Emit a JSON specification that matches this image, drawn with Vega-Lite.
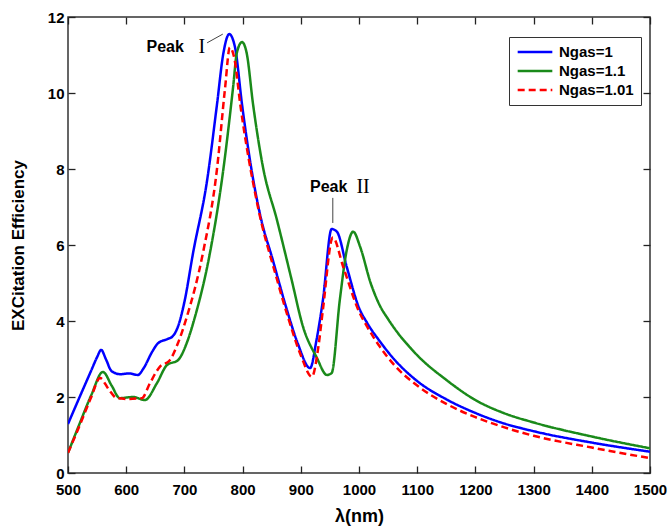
{
  "$schema": "https://vega.github.io/schema/vega-lite/v6.json",
  "width": 582,
  "height": 456,
  "autosize": {"type": "none"},
  "padding": {"left": 68, "top": 17, "right": 18, "bottom": 56},
  "background": "white",
  "config": {
    "font": "Liberation Sans",
    "view": {"stroke": "#333", "strokeWidth": 1.5},
    "axis": {"grid": false, "domain": false, "ticks": true, "tickColor": "#222", "tickWidth": 1.3, "labelFont": "Liberation Sans", "labelFontWeight": "bold", "labelFontSize": 15, "labelColor": "#000", "titleFont": "Liberation Sans", "titleFontWeight": "bold", "titleColor": "#000"}
  },
  "datasets": {
    "curves": [
      {"lambda": 500, "eff": 1.29, "series": "Ngas=1"},
      {"lambda": 520, "eff": 2.0, "series": "Ngas=1"},
      {"lambda": 540, "eff": 2.7, "series": "Ngas=1"},
      {"lambda": 550, "eff": 3.05, "series": "Ngas=1"},
      {"lambda": 557, "eff": 3.24, "series": "Ngas=1"},
      {"lambda": 565, "eff": 3.0, "series": "Ngas=1"},
      {"lambda": 575, "eff": 2.68, "series": "Ngas=1"},
      {"lambda": 590, "eff": 2.6, "series": "Ngas=1"},
      {"lambda": 605, "eff": 2.62, "series": "Ngas=1"},
      {"lambda": 620, "eff": 2.58, "series": "Ngas=1"},
      {"lambda": 630, "eff": 2.76, "series": "Ngas=1"},
      {"lambda": 645, "eff": 3.2, "series": "Ngas=1"},
      {"lambda": 655, "eff": 3.42, "series": "Ngas=1"},
      {"lambda": 670, "eff": 3.52, "series": "Ngas=1"},
      {"lambda": 680, "eff": 3.6, "series": "Ngas=1"},
      {"lambda": 690, "eff": 3.9, "series": "Ngas=1"},
      {"lambda": 700, "eff": 4.5, "series": "Ngas=1"},
      {"lambda": 715, "eff": 5.8, "series": "Ngas=1"},
      {"lambda": 739, "eff": 7.7, "series": "Ngas=1"},
      {"lambda": 756, "eff": 9.7, "series": "Ngas=1"},
      {"lambda": 767, "eff": 11.05, "series": "Ngas=1"},
      {"lambda": 777, "eff": 11.55, "series": "Ngas=1"},
      {"lambda": 787, "eff": 11.2, "series": "Ngas=1"},
      {"lambda": 799, "eff": 9.7, "series": "Ngas=1"},
      {"lambda": 813, "eff": 8.2, "series": "Ngas=1"},
      {"lambda": 830, "eff": 6.8, "series": "Ngas=1"},
      {"lambda": 852, "eff": 5.6, "series": "Ngas=1"},
      {"lambda": 876, "eff": 4.3, "series": "Ngas=1"},
      {"lambda": 895, "eff": 3.4, "series": "Ngas=1"},
      {"lambda": 916, "eff": 2.76, "series": "Ngas=1"},
      {"lambda": 927, "eff": 3.5, "series": "Ngas=1"},
      {"lambda": 938, "eff": 4.55, "series": "Ngas=1"},
      {"lambda": 953, "eff": 6.42, "series": "Ngas=1"},
      {"lambda": 962, "eff": 6.35, "series": "Ngas=1"},
      {"lambda": 979, "eff": 5.42, "series": "Ngas=1"},
      {"lambda": 1000, "eff": 4.35, "series": "Ngas=1"},
      {"lambda": 1014, "eff": 3.95, "series": "Ngas=1"},
      {"lambda": 1036, "eff": 3.46, "series": "Ngas=1"},
      {"lambda": 1060, "eff": 3.0, "series": "Ngas=1"},
      {"lambda": 1100, "eff": 2.42, "series": "Ngas=1"},
      {"lambda": 1150, "eff": 1.94, "series": "Ngas=1"},
      {"lambda": 1200, "eff": 1.58, "series": "Ngas=1"},
      {"lambda": 1250, "eff": 1.3, "series": "Ngas=1"},
      {"lambda": 1300, "eff": 1.1, "series": "Ngas=1"},
      {"lambda": 1400, "eff": 0.8, "series": "Ngas=1"},
      {"lambda": 1500, "eff": 0.56, "series": "Ngas=1"},

      {"lambda": 500, "eff": 0.53, "series": "Ngas=1.1"},
      {"lambda": 520, "eff": 1.3, "series": "Ngas=1.1"},
      {"lambda": 540, "eff": 2.05, "series": "Ngas=1.1"},
      {"lambda": 560, "eff": 2.66, "series": "Ngas=1.1"},
      {"lambda": 575, "eff": 2.3, "series": "Ngas=1.1"},
      {"lambda": 589, "eff": 1.97, "series": "Ngas=1.1"},
      {"lambda": 612, "eff": 2.0, "series": "Ngas=1.1"},
      {"lambda": 632, "eff": 1.92, "series": "Ngas=1.1"},
      {"lambda": 653, "eff": 2.37, "series": "Ngas=1.1"},
      {"lambda": 670, "eff": 2.84, "series": "Ngas=1.1"},
      {"lambda": 689, "eff": 2.97, "series": "Ngas=1.1"},
      {"lambda": 704, "eff": 3.42, "series": "Ngas=1.1"},
      {"lambda": 718, "eff": 4.1, "series": "Ngas=1.1"},
      {"lambda": 744, "eff": 5.8, "series": "Ngas=1.1"},
      {"lambda": 767, "eff": 8.0, "series": "Ngas=1.1"},
      {"lambda": 784, "eff": 10.2, "series": "Ngas=1.1"},
      {"lambda": 790, "eff": 11.05, "series": "Ngas=1.1"},
      {"lambda": 799, "eff": 11.34, "series": "Ngas=1.1"},
      {"lambda": 807, "eff": 11.05, "series": "Ngas=1.1"},
      {"lambda": 818, "eff": 9.7, "series": "Ngas=1.1"},
      {"lambda": 835, "eff": 8.05, "series": "Ngas=1.1"},
      {"lambda": 859, "eff": 6.66, "series": "Ngas=1.1"},
      {"lambda": 884, "eff": 5.1, "series": "Ngas=1.1"},
      {"lambda": 904, "eff": 3.84, "series": "Ngas=1.1"},
      {"lambda": 927, "eff": 3.05, "series": "Ngas=1.1"},
      {"lambda": 945, "eff": 2.58, "series": "Ngas=1.1"},
      {"lambda": 953, "eff": 2.63, "series": "Ngas=1.1"},
      {"lambda": 967, "eff": 4.55, "series": "Ngas=1.1"},
      {"lambda": 979, "eff": 5.87, "series": "Ngas=1.1"},
      {"lambda": 990, "eff": 6.35, "series": "Ngas=1.1"},
      {"lambda": 1002, "eff": 5.95, "series": "Ngas=1.1"},
      {"lambda": 1020, "eff": 5.0, "series": "Ngas=1.1"},
      {"lambda": 1036, "eff": 4.4, "series": "Ngas=1.1"},
      {"lambda": 1050, "eff": 4.05, "series": "Ngas=1.1"},
      {"lambda": 1070, "eff": 3.62, "series": "Ngas=1.1"},
      {"lambda": 1085, "eff": 3.35, "series": "Ngas=1.1"},
      {"lambda": 1100, "eff": 3.1, "series": "Ngas=1.1"},
      {"lambda": 1150, "eff": 2.45, "series": "Ngas=1.1"},
      {"lambda": 1200, "eff": 1.92, "series": "Ngas=1.1"},
      {"lambda": 1250, "eff": 1.57, "series": "Ngas=1.1"},
      {"lambda": 1300, "eff": 1.33, "series": "Ngas=1.1"},
      {"lambda": 1400, "eff": 0.96, "series": "Ngas=1.1"},
      {"lambda": 1500, "eff": 0.65, "series": "Ngas=1.1"},

      {"lambda": 500, "eff": 0.53, "series": "Ngas=1.01"},
      {"lambda": 520, "eff": 1.25, "series": "Ngas=1.01"},
      {"lambda": 540, "eff": 2.0, "series": "Ngas=1.01"},
      {"lambda": 555, "eff": 2.5, "series": "Ngas=1.01"},
      {"lambda": 570, "eff": 2.2, "series": "Ngas=1.01"},
      {"lambda": 584, "eff": 1.97, "series": "Ngas=1.01"},
      {"lambda": 601, "eff": 1.95, "series": "Ngas=1.01"},
      {"lambda": 627, "eff": 1.97, "series": "Ngas=1.01"},
      {"lambda": 641, "eff": 2.37, "series": "Ngas=1.01"},
      {"lambda": 658, "eff": 2.8, "series": "Ngas=1.01"},
      {"lambda": 675, "eff": 2.97, "series": "Ngas=1.01"},
      {"lambda": 689, "eff": 3.42, "series": "Ngas=1.01"},
      {"lambda": 704, "eff": 4.1, "series": "Ngas=1.01"},
      {"lambda": 732, "eff": 5.8, "series": "Ngas=1.01"},
      {"lambda": 756, "eff": 8.0, "series": "Ngas=1.01"},
      {"lambda": 770, "eff": 10.15, "series": "Ngas=1.01"},
      {"lambda": 778, "eff": 11.2, "series": "Ngas=1.01"},
      {"lambda": 786, "eff": 10.9, "series": "Ngas=1.01"},
      {"lambda": 796, "eff": 9.7, "series": "Ngas=1.01"},
      {"lambda": 825, "eff": 7.1, "series": "Ngas=1.01"},
      {"lambda": 859, "eff": 5.1, "series": "Ngas=1.01"},
      {"lambda": 880, "eff": 4.0, "series": "Ngas=1.01"},
      {"lambda": 900, "eff": 3.1, "series": "Ngas=1.01"},
      {"lambda": 919, "eff": 2.53, "series": "Ngas=1.01"},
      {"lambda": 930, "eff": 3.3, "series": "Ngas=1.01"},
      {"lambda": 938, "eff": 4.3, "series": "Ngas=1.01"},
      {"lambda": 955, "eff": 6.2, "series": "Ngas=1.01"},
      {"lambda": 973, "eff": 5.42, "series": "Ngas=1.01"},
      {"lambda": 1000, "eff": 4.25, "series": "Ngas=1.01"},
      {"lambda": 1014, "eff": 3.85, "series": "Ngas=1.01"},
      {"lambda": 1036, "eff": 3.32, "series": "Ngas=1.01"},
      {"lambda": 1060, "eff": 2.85, "series": "Ngas=1.01"},
      {"lambda": 1100, "eff": 2.3, "series": "Ngas=1.01"},
      {"lambda": 1150, "eff": 1.82, "series": "Ngas=1.01"},
      {"lambda": 1200, "eff": 1.47, "series": "Ngas=1.01"},
      {"lambda": 1250, "eff": 1.2, "series": "Ngas=1.01"},
      {"lambda": 1300, "eff": 0.98, "series": "Ngas=1.01"},
      {"lambda": 1400, "eff": 0.67, "series": "Ngas=1.01"},
      {"lambda": 1500, "eff": 0.39, "series": "Ngas=1.01"}
    ],
    "words": [
      {"lambda": 667, "eff": 11.2, "label": "Peak", "serif": false},
      {"lambda": 730, "eff": 11.2, "label": "I", "serif": true},
      {"lambda": 948, "eff": 7.53, "label": "Peak", "serif": false},
      {"lambda": 1007, "eff": 7.53, "label": "II", "serif": true}
    ],
    "pointers": [
      {"lambda": 739, "eff": 11.32, "lambda2": 766, "eff2": 11.55},
      {"lambda": 955, "eff": 7.24, "lambda2": 955, "eff2": 6.58}
    ]
  },
  "resolve": {"axis": {"x": "independent", "y": "independent"}},
  "layer": [
    {
      "data": {"name": "curves"},
      "mark": {"type": "line", "strokeWidth": 2.5, "interpolate": "monotone", "clip": true},
      "encoding": {
        "x": {"field": "lambda", "type": "quantitative", "scale": {"domain": [500, 1500], "nice": false},
          "axis": {"orient": "bottom", "offset": -7, "values": [500,600,700,800,900,1000,1100,1200,1300,1400,1500], "format": "d", "tickSize": 7, "labelPadding": 9, "title": "λ(nm)", "titleFontSize": 18, "titlePadding": 10, "labelFlush": false}},
        "y": {"field": "eff", "type": "quantitative", "scale": {"domain": [0, 12], "nice": false},
          "axis": {"orient": "left", "offset": -7, "values": [0,2,4,6,8,10,12], "tickSize": 7, "labelPadding": 4, "title": "EXCitation Efficiency", "titleFontSize": 17, "titlePadding": 20}},
        "color": {"field": "series", "type": "nominal", "sort": ["Ngas=1", "Ngas=1.1", "Ngas=1.01"],
          "scale": {"domain": ["Ngas=1", "Ngas=1.1", "Ngas=1.01"], "range": ["#0000ff", "#1a8a1a", "#ff0000"]},
          "legend": {"title": null, "orient": "none", "legendX": 441, "legendY": 20, "strokeColor": "#333", "fillColor": "white", "padding": 7, "symbolType": "stroke", "symbolSize": 1200, "clipHeight": 16, "symbolStrokeWidth": 2.5, "labelFontSize": 15, "labelFontWeight": "bold", "labelFont": "Liberation Sans", "labelColor": "#000", "rowPadding": 3, "labelOffset": 5}},
        "strokeDash": {"field": "series", "type": "nominal",
          "scale": {"domain": ["Ngas=1", "Ngas=1.1", "Ngas=1.01"], "range": [[1, 0], [1, 0], [7, 4]]}, "legend": null},
        "order": {"field": "lambda", "type": "quantitative"}
      }
    },
    {
      "data": {"name": "curves"},
      "mark": {"type": "point", "opacity": 0},
      "encoding": {
        "x": {"field": "lambda", "type": "quantitative", "axis": {"orient": "top", "offset": -7, "values": [500,600,700,800,900,1000,1100,1200,1300,1400,1500], "tickSize": 7, "labels": false, "title": null}},
        "y": {"field": "eff", "type": "quantitative", "axis": {"orient": "right", "offset": -7, "values": [0,2,4,6,8,10,12], "tickSize": 7, "labels": false, "title": null}}
      }
    },
    {
      "data": {"name": "pointers"},
      "mark": {"type": "rule", "color": "#444", "strokeWidth": 1},
      "encoding": {
        "x": {"field": "lambda", "type": "quantitative", "axis": null},
        "y": {"field": "eff", "type": "quantitative", "axis": null},
        "x2": {"field": "lambda2"},
        "y2": {"field": "eff2"}
      }
    },
    {
      "data": {"name": "words"},
      "transform": [{"filter": "!datum.serif"}],
      "mark": {"type": "text", "font": "Liberation Sans", "fontWeight": "bold", "fontSize": 16, "baseline": "middle", "align": "center", "color": "#000"},
      "encoding": {
        "x": {"field": "lambda", "type": "quantitative", "axis": null},
        "y": {"field": "eff", "type": "quantitative", "axis": null},
        "text": {"field": "label"}
      }
    },
    {
      "data": {"name": "words"},
      "transform": [{"filter": "datum.serif"}],
      "mark": {"type": "text", "font": "Liberation Serif", "fontSize": 20, "baseline": "middle", "align": "center", "color": "#000"},
      "encoding": {
        "x": {"field": "lambda", "type": "quantitative", "axis": null},
        "y": {"field": "eff", "type": "quantitative", "axis": null},
        "text": {"field": "label"}
      }
    }
  ]
}
